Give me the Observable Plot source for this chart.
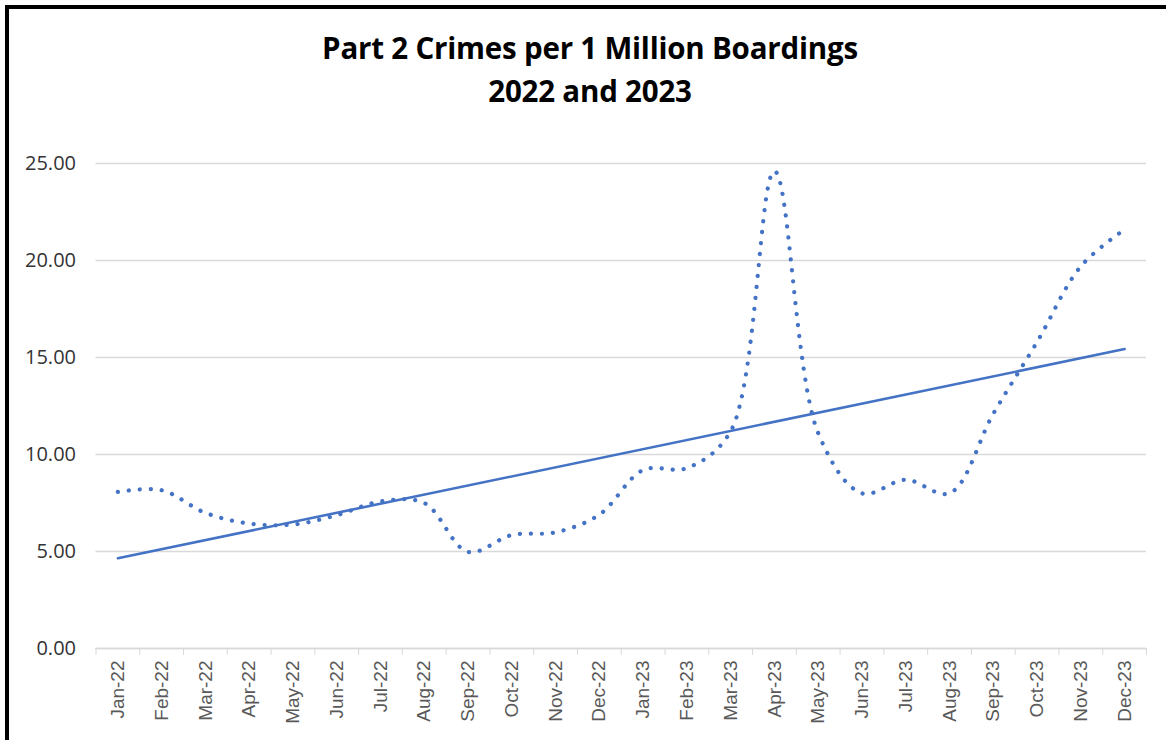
<!DOCTYPE html>
<html><head><meta charset="utf-8">
<script src="https://cdn.jsdelivr.net/npm/d3@7"></script>
<script src="https://cdn.jsdelivr.net/npm/@observablehq/plot@0.6"></script>
<style>
body{margin:0;background:#fff;width:1166px;height:740px;overflow:hidden;position:relative;font-family:"Open Sans",sans-serif}
#frame{position:absolute;left:5px;top:5px;width:1200px;height:800px;border-left:4px solid #000;border-top:4px solid #000;z-index:5;pointer-events:none}
#title{position:absolute;left:0;width:1180px;top:26px;text-align:center;font-weight:700;font-size:29.5px;line-height:43px;color:#000;letter-spacing:-0.2px}
#chart{position:absolute;left:0;top:120px}
</style></head><body>
<div id="frame"></div>
<div id="title">Part 2 Crimes per 1 Million Boardings<br>2022 and 2023</div>
<div id="chart"></div>
<script>
const months = ["Jan-22","Feb-22","Mar-22","Apr-22","May-22","Jun-22","Jul-22","Aug-22","Sep-22","Oct-22","Nov-22","Dec-22",
                "Jan-23","Feb-23","Mar-23","Apr-23","May-23","Jun-23","Jul-23","Aug-23","Sep-23","Oct-23","Nov-23","Dec-23"];
const values = [8.07, 8.16, 6.99, 6.44, 6.39, 6.87, 7.58, 7.50, 4.98, 5.85, 5.99, 6.90,
                9.20, 9.30, 11.20, 24.60, 11.10, 8.00, 8.70, 8.00, 12.10, 15.80, 19.70, 21.60];
const yTicks = [0, 5, 10, 15, 20, 25];

const data = months.map((m, i) => ({i, m, v: values[i]}));
const boundaries = d3.range(months.length + 1).map(k => k - 0.5);
const blue = "#4472C4";

const chart = Plot.plot({
  width: 1166, height: 620,
  marginLeft: 95.5, marginRight: 20, marginTop: 43, marginBottom: 92,
  x: {type: "linear", domain: [-0.5, months.length - 0.5], label: null},
  y: {domain: [0, 25], label: null},
  style: {fontFamily: "Open Sans", background: "transparent", overflow: "visible"},
  marks: [
    Plot.gridY(yTicks, {stroke: "#d9d9d9", strokeOpacity: 1, strokeWidth: 1.3}),
    Plot.axisY(yTicks, {tickSize: 0, tickPadding: 20, tickFormat: d => d.toFixed(2), fontSize: 20, fill: "#333333"}),
    Plot.ruleY([0], {stroke: "#d9d9d9", strokeWidth: 1.5}),
    Plot.axisX(boundaries, {tickSize: 7, stroke: "#d9d9d9", strokeOpacity: 1, tickFormat: () => ""}),
    Plot.axisX(d3.range(months.length), {tickSize: 0, tickRotate: -90, tickPadding: 12, tickFormat: i => months[i],
      fontSize: 19, fontFamily: "Liberation Sans", fill: "#595959"}),
    Plot.linearRegressionY(data, {x: "i", y: "v", stroke: blue, strokeWidth: 2.6, ci: 0}),
    Plot.line(data, {x: "i", y: "v", curve: "catmull-rom", stroke: blue, strokeWidth: 4.2,
      strokeDasharray: "0.1 10.9", strokeLinecap: "round"})
  ]
});
document.getElementById("chart").appendChild(chart);
</script>
</body></html>
